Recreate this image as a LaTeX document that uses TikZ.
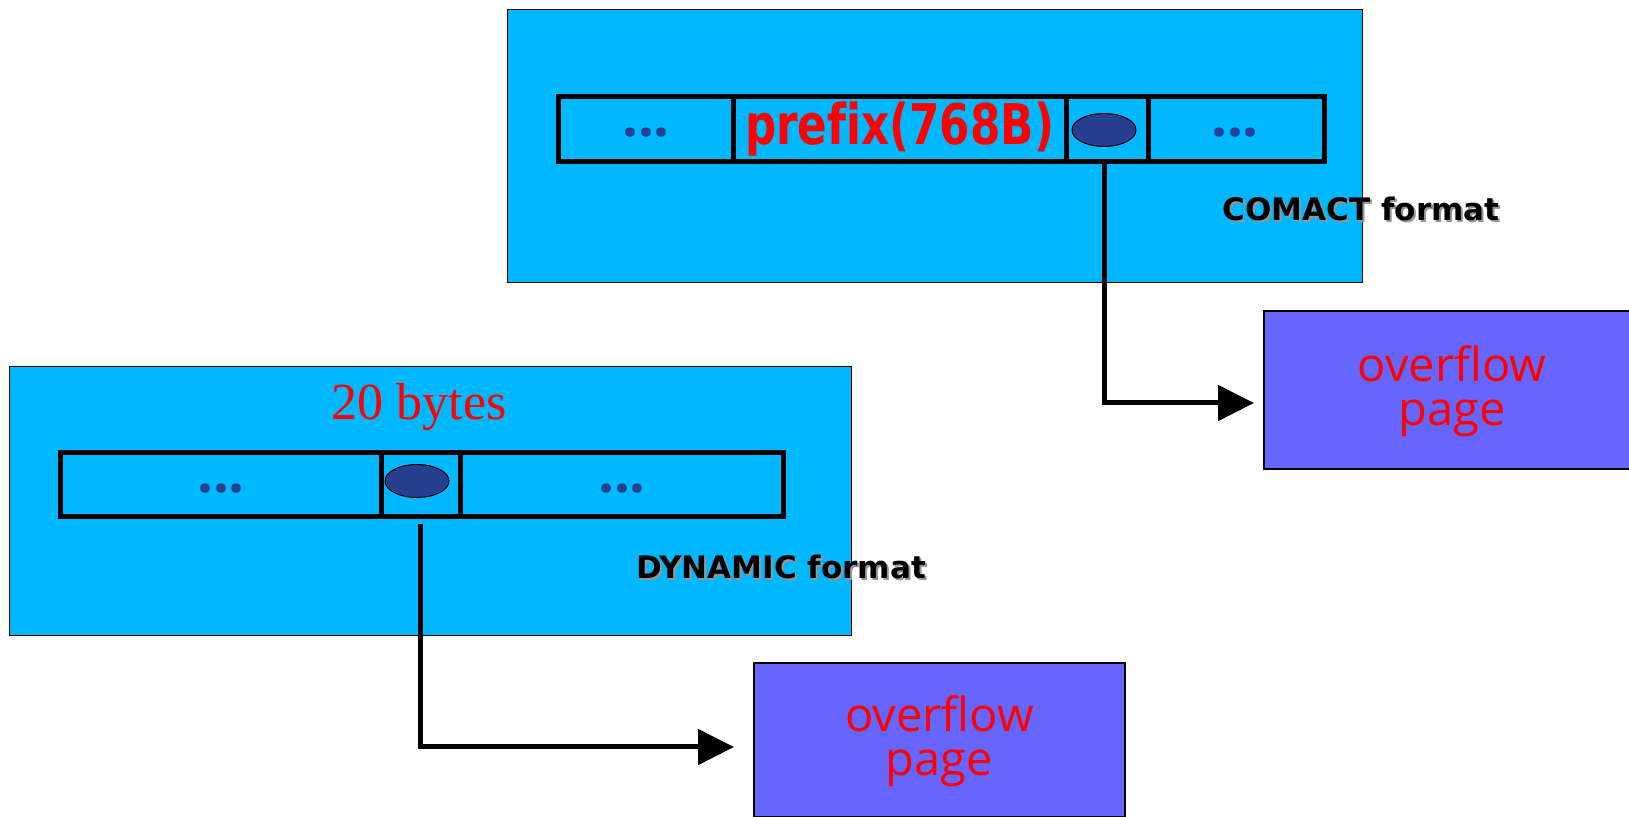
\documentclass[tikz,border=0pt]{standalone}
\usepackage{fontspec}
\usetikzlibrary{arrows.meta,shapes.geometric}
\newfontfamily\cellfont{DejaVu Sans}[FakeStretch=0.78,Ligatures=NoCommon]
\newfontfamily\labelfont{DejaVu Sans}
\newfontfamily\pagefont{Open Sans}
\newfontfamily\seriffont{Liberation Serif}
\definecolor{recbg}{RGB}{0,184,255}
\definecolor{pagebg}{RGB}{102,102,255}
\definecolor{ptrfill}{RGB}{38,64,143}
\definecolor{shadowgray}{RGB}{150,150,150}
\tikzset{
  recbox/.style={rectangle, draw=black, line width=0.5pt, fill=recbg, inner sep=0pt},
  cellbox/.style={rectangle, draw=black, line width=2.5pt, inner sep=0pt, minimum height=32.5pt},
  dots/.style={text=ptrfill, inner sep=0pt, font=\pagefont\bfseries\fontsize{28}{28}\selectfont},
  ptr/.style={ellipse, draw=black, line width=0.5pt, fill=ptrfill, inner sep=0pt,
              minimum width=32pt, minimum height=16.5pt},
  ovbox/.style={rectangle, draw=black, line width=0.6pt, fill=pagebg, inner sep=0pt},
  ovtext/.style={inner sep=0pt, text=red, align=center,
                 font=\pagefont\fontsize{23.5}{22}\selectfont},
  fmtlabel/.style={font=\labelfont\bfseries\fontsize{15.5}{15.5}\selectfont, inner sep=0pt},
  conn/.style={line width=2.5pt, -{Triangle[length=18pt,width=17.5pt]}}
}
\begin{document}
\begin{tikzpicture}[x=0.5pt,y=-0.5pt]
\useasboundingbox (0,0) rectangle (1629,817);
\clip (0,0) rectangle (1629,817);

% COMPACT record
\node[recbox, minimum width=427.5pt, minimum height=136.5pt] (recA) at (934.5,146.5) {};
\node[cellbox, minimum width=87.5pt] (a1) at (645.5,129.5) {};
\node[cellbox, minimum width=166.5pt, text=red,
      font=\cellfont\bfseries\fontsize{28}{28}\selectfont] (a2) at (899.5,129.5) {prefix(768B)};
\node[cellbox, minimum width=41pt] (a3) at (1107,129.5) {};
\node[cellbox, minimum width=88pt] (a4) at (1236,129.5) {};
\node[dots] (a1dots) at (646,133) {...};
\node[dots] (a4dots) at (1235,133) {...};
\node[ptr] (ptrA) at (1104,130) {};
\node[fmtlabel, text=shadowgray] (fmtAs) at (1363,211) {COMACT format};
\node[fmtlabel, text=black] (fmtA) at (1361,209) {COMACT format};

% overflow page of the COMPACT record
\node[ovbox, minimum width=188pt, minimum height=79pt] (ovA) at (1452,390) {};
\node[ovtext] (ovAtext) at (1452,391.5) {overflow\\page};
\coordinate (tipA) at (1254,403);
\draw[conn] (ptrA |- a3.south) |- (tipA);

% DYNAMIC record
\node[recbox, minimum width=421pt, minimum height=134.5pt] (recB) at (430,501.5) {};
\node[text=red, font=\seriffont\fontsize{26}{26}\selectfont] (bytes) at (419,407) {20 bytes};
\node[cellbox, minimum width=160.5pt, minimum height=32pt] (b1) at (220.5,485) {};
\node[cellbox, minimum width=39.5pt, minimum height=32pt] (b2) at (420.5,485) {};
\node[cellbox, minimum width=161.5pt, minimum height=32pt] (b3) at (621.5,485) {};
\node[dots] (b1dots) at (221,489) {...};
\node[dots] (b3dots) at (622,489) {...};
\node[ptr] (ptrB) at (417,481) {};
\node[fmtlabel, text=shadowgray] (fmtBs) at (783,569) {DYNAMIC format};
\node[fmtlabel, text=black] (fmtB) at (781,567) {DYNAMIC format};

% overflow page of the DYNAMIC record
\node[ovbox, minimum width=185.5pt, minimum height=77pt] (ovB) at (939.5,740) {};
\node[ovtext] (ovBtext) at (939.5,741.5) {overflow\\page};
\coordinate (tipB) at (734,747);
\draw[conn, shorten <=2.5pt] (b2.south) |- (tipB);
\end{tikzpicture}
\end{document}
